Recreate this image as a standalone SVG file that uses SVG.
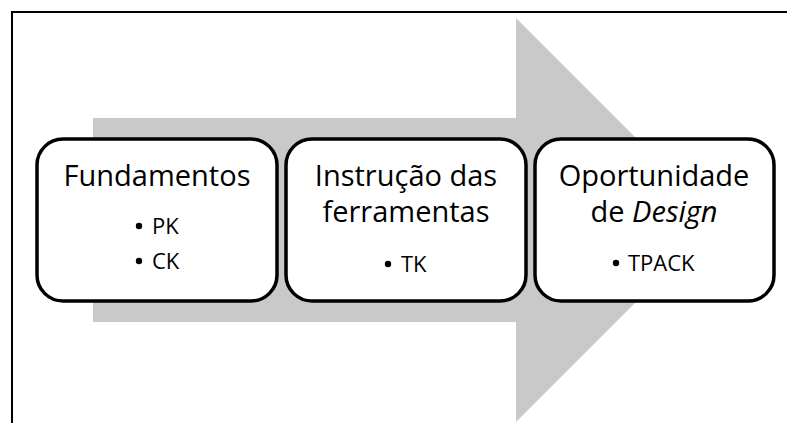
<svg xmlns="http://www.w3.org/2000/svg" width="787" height="423" viewBox="0 0 787 423">
<style>
.box{fill:#fff;stroke:#000;stroke-width:3.5}
.t{font-family:"Open Sans","Noto Sans","Liberation Sans",sans-serif;font-size:29px;fill:#000;text-anchor:middle}
.b{font-family:"Open Sans","Noto Sans","Liberation Sans",sans-serif;font-size:22px;fill:#000}
.dot{fill:#000}
</style>
<rect x="0" y="0" width="787" height="423" fill="#fff"/>
<path d="M12 423 V12 H787" fill="none" stroke="#000" stroke-width="2"/>
<g id="connectors">
<polygon points="93,118 516,118 516,18 718,220 516,422 516,322 93,322" fill="#c9c9c9"/>
</g>
<g id="node1">
<rect class="box" x="37" y="139" width="240" height="162" rx="26" ry="26"/>
<text class="t" x="157" y="186">Fundamentos</text>
<circle class="dot" cx="139" cy="226" r="3.2"/>
<text class="b" x="152" y="234">PK</text>
<circle class="dot" cx="139" cy="261" r="3.2"/>
<text class="b" x="152" y="269">CK</text>
</g>
<g id="node2">
<rect class="box" x="286" y="139" width="240" height="162" rx="26" ry="26"/>
<text class="t" x="406" y="186">Instrução das</text>
<text class="t" x="406" y="222">ferramentas</text>
<circle class="dot" cx="388" cy="264" r="3.2"/>
<text class="b" x="401" y="272">TK</text>
</g>
<g id="node3">
<rect class="box" x="535" y="139" width="239" height="162" rx="26" ry="26"/>
<text class="t" x="654" y="186">Oportunidade</text>
<text class="t" x="654" y="222">de <tspan font-style="italic">Design</tspan></text>
<circle class="dot" cx="616" cy="263" r="3.2"/>
<text class="b" x="628" y="271">TPACK</text>
</g>
</svg>
